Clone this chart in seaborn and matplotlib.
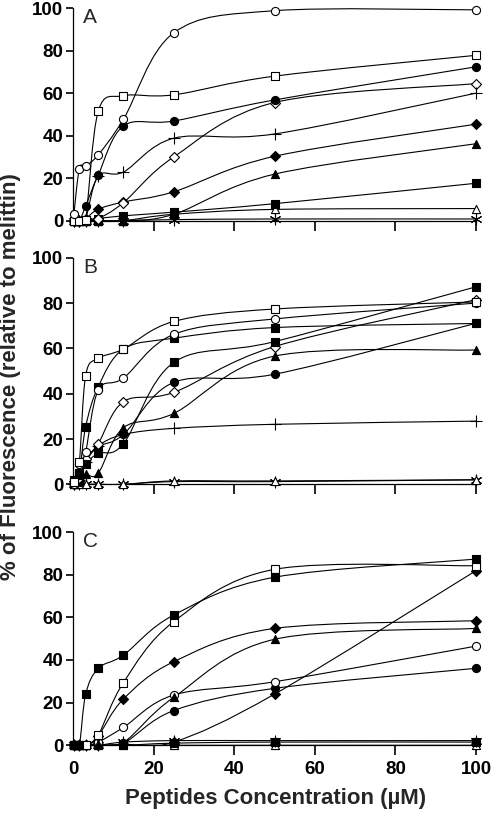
import numpy as np
import matplotlib
matplotlib.use("Agg")
import matplotlib.pyplot as plt
from matplotlib.path import Path
from matplotlib.patches import PathPatch
import seaborn as sns

# peptide concentrations (uM)
conc = [0.2, 1.56, 3.125, 6.25, 12.5, 25, 50, 100]

# panel A
a_open_circle = [3, 24.5, 25.7, 31, 47.7, 88.4, 98.8, 99.2]
a_open_square = [0, 0, 0.5, 51.5, 58.8, 59.2, 68, 77.8]
a_fill_circle = [0, 0, 6.9, 21.5, 44.6, 46.9, 56.8, 72.4]
a_plus = [0, 0, 1, 21, 22.9, 38.8, 40.8, 60]
a_open_diamond = [0, 0, 0, 1, 8.5, 30, 55.6, 64.5]
a_fill_diamond = [0, 0, 1, 5.4, 8.8, 13.6, 30.3, 45.4]
a_fill_triangle = [0, 0, 0, 0, 0, 3, 21.9, 36.2]
a_fill_square = [0, 0, 0.5, 1, 2.3, 4.0, 8.0, 17.6]
a_open_triangle = [0, 0, 0, 0, 0, 3, 5.3, 5.7]
a_asterisk = [0, 0, 0, 0, 0, 0.5, 0.8, 0.8]

# panel B
b_open_square = [1, 10, 48, 55.6, 59.7, 71.9, 77.4, 80.5]
b_open_circle = [0, 8.8, 14.4, 41.6, 46.9, 66.2, 73, 80]
b_fill_square1 = [2, 5, 25.4, 43.1, 59.7, 64.5, 69.2, 71]
b_fill_square2 = [1, 4, 9, 13.7, 17.9, 53.8, 63, 87.2]
b_open_diamond = [0, 3, 11, 18, 36.5, 40.6, 60.8, 81.5]
b_fill_circle = [0, 2, 10, 16.6, 22, 45, 48.6, 71.1]
b_fill_triangle = [0, 1, 4.4, 4.9, 25, 31.3, 56.6, 59.3]
b_plus = [0, 2, 10, 17, 22, 24.7, 26.5, 27.9]
b_asterisk = [0, 0, 0, 0, 0, 1.2, 1.2, 2]
b_open_triangle = [0, 0, 0, 0, 0, 1.5, 1.5, 2]

# panel C
c_fill_square1 = [0, 0, 23.9, 36.1, 42.3, 61.1, 78.8, 87.3]
c_open_square = [0, 0, 0, 4.8, 29.4, 58, 82.5, 84.2]
c_fill_diamond1 = [0, 0, 0, 4.4, 21.7, 39.2, 54.8, 58.4]
c_fill_triangle = [0, 0, 0, 0.5, 1.3, 22.5, 49.7, 54.8]
c_open_circle = [0, 0, 0, 1.5, 8.4, 23.6, 29.8, 46.5]
c_fill_circle = [0, 0, 0, 0.5, 1, 16.3, 26.7, 36.1]
c_fill_diamond2 = [0, 0, 0, 0, 0.5, 1.5, 24, 81.9]
c_fill_square2 = [0, 0, 0, 0, 0, 1, 1.5, 1.5]
c_asterisk = [0, 0, 0, 0, 1.5, 2.2, 2.2, 2.2]
c_open_triangle = [0, 0, 0, 0, 0, 0, 0, 0]

ASTER = (6, 2, 0)
# (values, marker, open?)
panels = [
    ("A", [(a_asterisk, ASTER, False), (a_open_triangle, "^", True),
           (a_fill_square, "s", False), (a_fill_triangle, "^", False),
           (a_fill_diamond, "D", False), (a_open_diamond, "D", True),
           (a_plus, "+", False), (a_fill_circle, "o", False),
           (a_open_square, "s", True), (a_open_circle, "o", True)]),
    ("B", [(b_asterisk, ASTER, False), (b_open_triangle, "^", True),
           (b_plus, "+", False), (b_fill_triangle, "^", False),
           (b_fill_circle, "o", False), (b_open_diamond, "D", True),
           (b_fill_square2, "s", False), (b_fill_square1, "s", False),
           (b_open_circle, "o", True), (b_open_square, "s", True)]),
    ("C", [(c_open_triangle, "^", True), (c_asterisk, ASTER, False),
           (c_fill_square2, "s", False), (c_fill_diamond2, "D", False),
           (c_fill_circle, "o", False), (c_open_circle, "o", True),
           (c_fill_triangle, "^", False), (c_fill_diamond1, "D", False),
           (c_open_square, "s", True), (c_fill_square1, "s", False)]),
]


def smooth_path(xs, ys):
    # catmull-rom style bezier, like a spreadsheet "smoothed line"
    pts = np.column_stack([xs, ys]).astype(float)
    n = len(pts)
    verts = [pts[0]]
    codes = [Path.MOVETO]
    for i in range(n - 1):
        p0 = pts[i - 1] if i > 0 else pts[i]
        p1 = pts[i]
        p2 = pts[i + 1]
        p3 = pts[i + 2] if i + 2 < n else pts[i + 1]
        verts += [p1 + (p2 - p0) / 6, p2 - (p3 - p1) / 6, p2]
        codes += [Path.CURVE4] * 3
    return Path(verts, codes)


sns.set_theme(style="ticks")
plt.rcParams["font.family"] = ["Liberation Sans", "DejaVu Sans"]
plt.rcParams["font.weight"] = "bold"

fig = plt.figure(figsize=(4.92, 8.14), dpi=100)
boxes = [(0.7289, 0.990), (0.405, 0.6833), (0.0844, 0.3464)]
left, right = 0.1485, 0.9675

for (letter, series), (bot, top) in zip(panels, boxes):
    ax = fig.add_axes([left, bot, right - left, top - bot])
    for vals, mk, is_open in series:
        ax.add_patch(PathPatch(smooth_path(conc, vals), fill=False,
                               edgecolor="black", lw=0.8, zorder=2))
        kw = dict(marker=mk, s=34, color="black",
                  linewidth=0.8, zorder=3, clip_on=False, ax=ax, legend=False)
        if is_open:
            kw.update(facecolor="white", edgecolor="black")
        elif mk in ("o", "s", "D", "^"):
            kw.update(edgecolor="black")
        if mk == "D":
            kw["s"] = 26
        if mk == "+":
            kw["s"] = 70
        if mk == ASTER:
            kw["s"] = 60
        sns.scatterplot(x=conc, y=vals, **kw)
    ax.set_xlim(0, 100)
    ax.set_ylim(0, 100)
    ax.set_xticks([20, 40, 60, 80, 100])
    ax.set_yticks([0, 20, 40, 60, 80, 100])
    ax.tick_params(axis="both", colors="black", labelsize=13.5, width=1.2,
                   length=5, direction="out", pad=2)
    ax.tick_params(axis="x", length=7, pad=4)
    for lab in ax.get_yticklabels():
        lab.set_fontweight("bold")
    if letter == "C":
        ax.set_xticks([0, 20, 40, 60, 80, 100])
        ax.set_xticklabels(["0", "20", "40", "60", "80", "100"],
                           fontweight="bold")
        ax.xaxis.get_major_ticks()[0].tick1line.set_visible(False)
    else:
        ax.set_xticklabels([])
    ax.text(0.025, 1.0, letter, transform=ax.transAxes, va="top", ha="left",
            fontsize=15, fontweight="normal")
    ax.set_facecolor("white")
    for sp in ("left", "bottom"):
        ax.spines[sp].set_color("black")
        ax.spines[sp].set_linewidth(0.9)
    sns.despine(ax=ax)

fig.text(0.021, 0.538, "% of Fluorescence (relative to melittin)",
         rotation=90, ha="center", va="center", fontsize=16, fontweight="bold")
fig.text(0.561, 0.019, "Peptides Concentration (\u00b5M)", ha="center",
         va="center", fontsize=16, fontweight="bold")

fig.savefig("out.png", dpi=100, facecolor="white")
